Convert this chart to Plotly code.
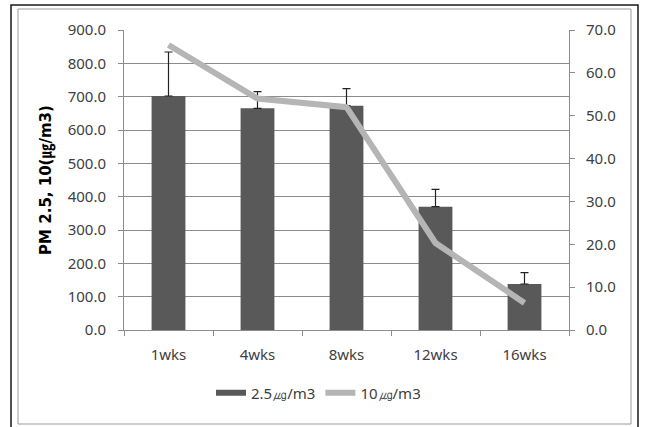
import plotly.graph_objects as go

categories = ["1wks", "4wks", "8wks", "12wks", "16wks"]
pm25 = [702, 665, 673, 370, 138]
pm25_err = [132, 50, 51, 52, 34]
pm10 = [66.5, 54.0, 52.0, 20.3, 6.3]

L, R, T, B = 124, 569, 30, 330
W, H = 645, 427

def px(x):
    return (x - L) / (R - L)

def py(y):
    return (B - y) / (B - T)

font_main = "Noto Sans, DejaVu Sans, sans-serif"
grey_txt = "#404040"
bar_col = "#595959"
line_col = "#b5b5b5"

fig = go.Figure()
fig.add_trace(go.Bar(
    x=categories, y=pm25, name="2.5㎍/m3", showlegend=False,
    marker=dict(color=bar_col, line=dict(width=0)),
    width=0.38,
    error_y=dict(type="data", array=pm25_err, arrayminus=[0]*5, symmetric=False,
                 color="#222222", thickness=1.2, width=4),
    yaxis="y",
))
# legend-only entry so the bar series key is a wide flat block as in the original
fig.add_trace(go.Scatter(
    x=[None], y=[None], name="2.5㎍/m3", mode="lines",
    line=dict(color=bar_col, width=6), yaxis="y", hoverinfo="skip",
))
fig.add_trace(go.Scatter(
    x=categories, y=pm10, name="10㎍/m3", mode="lines",
    line=dict(color=line_col, width=6),
    yaxis="y2",
))

fig.update_layout(
    width=W, height=H,
    margin=dict(l=L, r=W - R, t=T, b=H - B, autoexpand=False),
    paper_bgcolor="white", plot_bgcolor="white",
    font=dict(family=font_main, size=15, color=grey_txt),
    xaxis=dict(
        type="category", showline=True, linecolor="#8c8c8c", linewidth=1,
        ticks="outside", tickson="boundaries", ticklen=5, tickcolor="#8c8c8c",
        ticklabelstandoff=11,
        showgrid=False, tickfont=dict(size=15, color=grey_txt), automargin=False,
    ),
    yaxis=dict(
        range=[0, 900], dtick=100, tickformat=".1f",
        showline=True, linecolor="#8c8c8c", linewidth=1,
        ticks="outside", ticklen=5, tickcolor="#8c8c8c", ticklabelstandoff=9,
        showgrid=True, gridcolor="#8c8c8c", gridwidth=1, zeroline=False,
        tickfont=dict(size=15, color=grey_txt), automargin=False,
        title=dict(text="<b>PM 2.5, 10(㎍/m3)</b>", font=dict(size=15, color="#000000",
                   family="DejaVu Sans, Noto Sans CJK KR, sans-serif"), standoff=12),
    ),
    yaxis2=dict(
        range=[0, 70], dtick=10, tickformat=".1f", overlaying="y", side="right",
        showline=True, linecolor="#8c8c8c", linewidth=1,
        ticks="outside", ticklen=5, tickcolor="#8c8c8c", ticklabelstandoff=8,
        showgrid=False, zeroline=False, automargin=False,
        tickfont=dict(size=15, color=grey_txt),
    ),
    legend=dict(orientation="h", x=px(211), xanchor="left", y=py(393), yanchor="middle",
                font=dict(size=15, color=grey_txt), bgcolor="rgba(0,0,0,0)"),
    showlegend=True,
    shapes=[
        dict(type="rect", xref="paper", yref="paper", x0=px(11), x1=px(638), y0=py(430), y1=py(5),
             line=dict(color="#1a1a1a", width=1.5), fillcolor="rgba(0,0,0,0)", layer="below"),
        dict(type="rect", xref="paper", yref="paper", x0=px(18), x1=px(631), y0=py(424), y1=py(9),
             line=dict(color="#9a9a9a", width=1), fillcolor="rgba(0,0,0,0)", layer="below"),
    ],
)

fig.write_html("out.html", config={"displayModeBar": False},
               post_script="document.body.style.margin='0';")
